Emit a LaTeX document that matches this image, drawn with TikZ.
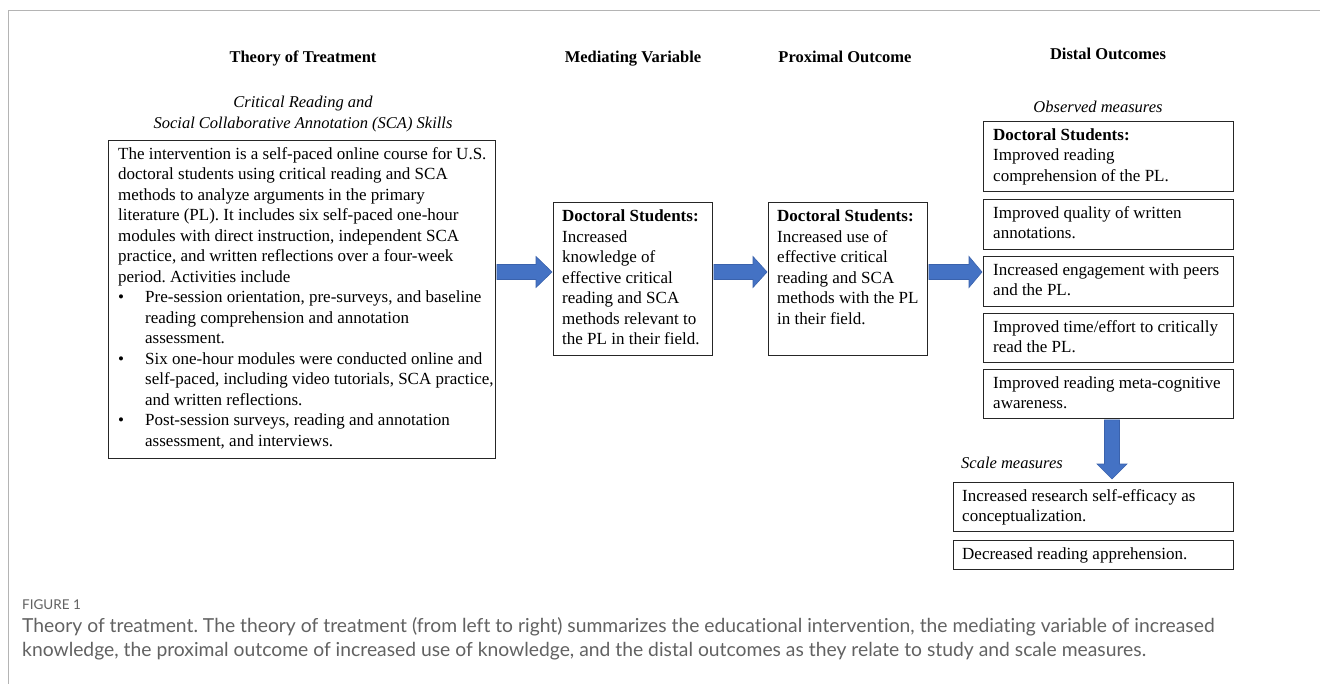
\documentclass[tikz,border=0pt]{standalone}
\usepackage{fontspec}
\setmainfont{Liberation Serif}
\newfontfamily\capfont{Lato}[Ligatures=NoCommon]
\usetikzlibrary{calc}
\frenchspacing
\definecolor{arrowblue}{HTML}{4472C4}
\definecolor{arrowedge}{HTML}{3A62AC}
\definecolor{framegray}{HTML}{B4B4B4}
\definecolor{capgray}{HTML}{626262}
\begin{document}
\begin{tikzpicture}[x=1pt,y=-1pt,
  box/.style={draw=black!85, line width=0.9pt, anchor=north west, inner sep=0pt},
  txt/.style={anchor=north west, inner sep=0pt, align=left, font=\fontsize{17}{20.5}\selectfont},
  hdr/.style={anchor=base, inner sep=0pt, font=\fontsize{16.5}{20}\selectfont\bfseries},
  subhdr/.style={anchor=base, inner sep=0pt, font=\fontsize{16.5}{20}\selectfont\itshape},
  captxt/.style={anchor=base west, inner sep=0pt, text=capgray, font=\capfont\fontsize{19.3}{24}\selectfont},
  blockarrow/.style={fill=arrowblue, draw=arrowedge, line width=0.6pt}]
\useasboundingbox[fill=white] (0,0) rectangle (1320,684);
\draw[framegray, line width=1pt] (1320,11) -- (8,11) -- (8,684);

% headers
\node[hdr] (h1) at (303,63) {Theory of Treatment};
\node[hdr] (h2) at (633,63) {Mediating Variable};
\node[hdr] (h3) at (845,63) {Proximal Outcome};
\node[hdr] (h4) at (1108,60) {Distal Outcomes};
\node[subhdr] (s1) at (303,108) {Critical Reading and};
\node[subhdr] (s2) at (303,129) {Social Collaborative Annotation (SCA) Skills};
\node[subhdr] (s3) at (1098,113) {Observed measures};
\node[subhdr, anchor=base west] (s4) at (961,468) {Scale measures};

% boxes
\node[box, minimum width=387pt, minimum height=318pt] (tt) at (108,140) {};
\node[box, minimum width=159pt, minimum height=153pt] (med) at (553,202) {};
\node[box, minimum width=159pt, minimum height=153pt] (prox) at (768,202) {};
\node[box, minimum width=250pt, minimum height=70pt] (b1) at (983,121) {};
\node[box, minimum width=250pt, minimum height=50pt] (b2) at (983,199) {};
\node[box, minimum width=250pt, minimum height=50pt] (b3) at (983,256) {};
\node[box, minimum width=250pt, minimum height=49pt] (b4) at (983,313) {};
\node[box, minimum width=250pt, minimum height=49pt] (b5) at (983,369) {};
\node[box, minimum width=280pt, minimum height=49pt] (sc1) at (953,482) {};
\node[box, minimum width=280pt, minimum height=29pt] (sc2) at (953,540) {};

% texts
\node[txt] (ttt) at ([shift={(10,4.5)}]tt.north west) {\strut The intervention is a self-paced online course for U.S.\\
doctoral students using critical reading and SCA\\
methods to analyze arguments in the primary\\
literature (PL). It includes six self-paced one-hour\\
modules with direct instruction, independent SCA\\
practice, and written reflections over a four-week\\
period. Activities include\\
\makebox[27pt][l]{\textbullet}Pre-session orientation, pre-surveys, and baseline\\
\hspace*{27pt}reading comprehension and annotation\\
\hspace*{27pt}assessment.\\
\makebox[27pt][l]{\textbullet}Six one-hour modules were conducted online and\\
\hspace*{27pt}self-paced, including video tutorials, SCA practice,\\
\hspace*{27pt}and written reflections.\\
\makebox[27pt][l]{\textbullet}Post-session surveys, reading and annotation\\
\hspace*{27pt}assessment, and interviews.};
\node[txt] (medt) at ([shift={(9,5)}]med.north west) {\strut\textbf{Doctoral Students:}\\
Increased\\
knowledge of\\
effective critical\\
reading and SCA\\
methods relevant to\\
the PL in their field.};
\node[txt] (proxt) at ([shift={(9,5)}]prox.north west) {\strut\textbf{Doctoral Students:}\\
Increased use of\\
effective critical\\
reading and SCA\\
methods with the PL\\
in their field.};
\node[txt] (b1t) at ([shift={(10,4.5)}]b1.north west) {\strut\textbf{Doctoral Students:}\\
Improved reading\\
comprehension of the PL.};
\node[txt] (b2t) at ([shift={(10,4.5)}]b2.north west) {\strut Improved quality of written\\
annotations.};
\node[txt] (b3t) at ([shift={(10,4.5)}]b3.north west) {\strut Increased engagement with peers\\
and the PL.};
\node[txt] (b4t) at ([shift={(10,4.5)}]b4.north west) {\strut Improved time/effort to critically\\
read the PL.};
\node[txt] (b5t) at ([shift={(10,4.5)}]b5.north west) {\strut Improved reading meta-cognitive\\
awareness.};
\node[txt] (sc1t) at ([shift={(9,4.5)}]sc1.north west) {\strut Increased research self-efficacy as\\
conceptualization.};
\node[txt] (sc2t) at ([shift={(9,4.5)}]sc2.north west) {\strut Decreased reading apprehension.};

% arrows
\coordinate (ay) at (0,272);
\coordinate (dx) at (1112,0);
\path[blockarrow] let \p1=(tt.east |- ay), \p2=(med.west |- ay) in
  (\x1+1pt,\y1+7.5pt) -- (\x2-17pt,\y1+7.5pt) -- (\x2-17pt,\y1+15.5pt) -- (\x2-1pt,\y1)
  -- (\x2-17pt,\y1-15.5pt) -- (\x2-17pt,\y1-7.5pt) -- (\x1+1pt,\y1-7.5pt) -- cycle;
\path[blockarrow] let \p1=(med.east |- ay), \p2=(prox.west |- ay) in
  (\x1+1pt,\y1+7.5pt) -- (\x2-15pt,\y1+7.5pt) -- (\x2-15pt,\y1+15.5pt) -- (\x2-1pt,\y1)
  -- (\x2-15pt,\y1-15.5pt) -- (\x2-15pt,\y1-7.5pt) -- (\x1+1pt,\y1-7.5pt) -- cycle;
\path[blockarrow] let \p1=(prox.east |- ay), \p2=(b3.west |- ay) in
  (\x1+1pt,\y1+7.5pt) -- (\x2-14pt,\y1+7.5pt) -- (\x2-14pt,\y1+15.5pt) -- (\x2-1pt,\y1)
  -- (\x2-14pt,\y1-15.5pt) -- (\x2-14pt,\y1-7.5pt) -- (\x1+1pt,\y1-7.5pt) -- cycle;
\path[blockarrow] let \p1=(dx |- b5.south), \p2=(dx |- sc1.north) in
  (\x1-7.5pt,\y1-1pt) -- (\x1-7.5pt,\y2+18pt) -- (\x1-15pt,\y2+18pt) -- (\x1,\y2+3pt)
  -- (\x1+15pt,\y2+18pt) -- (\x1+7.5pt,\y2+18pt) -- (\x1+7.5pt,\y1-1pt) -- cycle;

% caption
\node[captxt, font=\capfont\fontsize{13.5}{16}\selectfont] (fig) at (22,609) {FIGURE 1};
\node[captxt] (c1) at (22,632) {Theory of treatment. The theory of treatment (from left to right) summarizes the educational intervention, the mediating variable of increased};
\node[captxt] (c2) at (22,656) {knowledge, the proximal outcome of increased use of knowledge, and the distal outcomes as they relate to study and scale measures.};
\end{tikzpicture}
\end{document}
